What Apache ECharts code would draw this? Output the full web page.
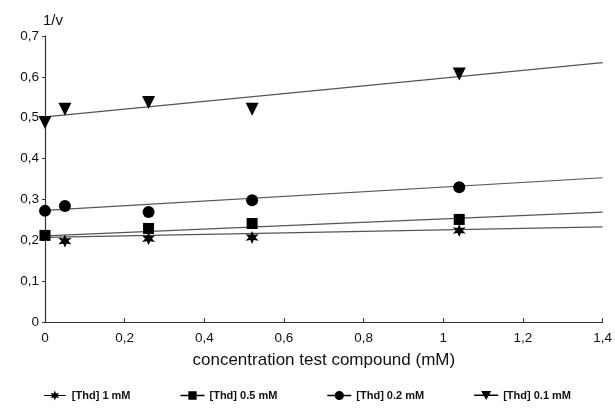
<!DOCTYPE html>
<html><head><meta charset="utf-8">
<script src="https://cdn.jsdelivr.net/npm/echarts@6/dist/echarts.min.js"></script>
<style>html,body{margin:0;padding:0;background:#fff}#c{width:615px;height:411px}</style>
</head><body><div id="c"></div>
<script>
// Data
const seriesNames = ['[Thd] 1 mM', '[Thd] 0.5 mM', '[Thd] 0.2 mM', '[Thd] 0.1 mM'];
const star1mM = [[0.05, 0.198], [0.26, 0.204], [0.52, 0.207], [1.04, 0.224]];
const square05mM = [[0, 0.212], [0.26, 0.229], [0.52, 0.241], [1.04, 0.251]];
const circle02mM = [[0, 0.272], [0.05, 0.284], [0.26, 0.269], [0.52, 0.298], [1.04, 0.330]];
const tri01mM = [[0, 0.488], [0.05, 0.521], [0.26, 0.537], [0.52, 0.521], [1.04, 0.607]];
// Fitted lines (start at x=0, end at x=1.4)
const fit1mM = [[0, 0.207], [1.4, 0.233]];
const fit05mM = [[0, 0.211], [1.4, 0.269]];
const fit02mM = [[0, 0.273], [1.4, 0.353]];
const fit01mM = [[0, 0.502], [1.4, 0.635]];

function starPath(cx, cy, ro, ri) {
  let s = '';
  for (let k = 0; k < 12; k++) {
    const a = (-90 + k * 30) * Math.PI / 180;
    const r = k % 2 ? ri : ro;
    s += (k ? 'L' : 'M') + (cx + r * Math.cos(a)).toFixed(2) + ',' + (cy + r * Math.sin(a)).toFixed(2);
  }
  return s + 'Z';
}
const starSym = 'path://' + starPath(10, 10, 10, 4.6);
const lineBar = 'M2,5.3L28,5.3L28,6.7L2,6.7Z';
const legIcons = [
  'path://' + lineBar + starPath(15, 6, 6, 2.8),
  'path://' + lineBar + 'M10.5,1.5L19.5,1.5L19.5,10.5L10.5,10.5Z',
  'path://' + lineBar + 'M15,1A5,5 0 1,1 14.99,1Z',
  'path://' + lineBar + 'M9.5,1.5L20.5,1.5L15,11Z'
];

const comma = v => String(v).replace('.', ',');
const font = 'Liberation Sans';
const chart = echarts.init(document.getElementById('c'));
const pts = [star1mM, square05mM, circle02mM, tri01mM];
const fits = [fit1mM, fit05mM, fit02mM, fit01mM];
const syms = [starSym, 'rect', 'circle', 'triangle'];
const sizes = [13, 11, 12, 13];
const series = [];
fits.forEach((f, i) => series.push({
  type: 'line', data: f, symbol: 'none', silent: true,
  lineStyle: { color: '#555', width: 1.2 }, z: 1
}));
pts.forEach((p, i) => series.push({
  name: seriesNames[i], type: 'scatter', data: p, symbol: syms[i],
  symbolSize: sizes[i], symbolRotate: i === 3 ? 180 : 0,
  itemStyle: { color: '#000', opacity: 1 }, z: 3
}));

chart.setOption({
  backgroundColor: '#fff',
  animation: false,
  grid: { left: 45, right: 10, top: 36, bottom: 89 },
  xAxis: {
    type: 'value', min: 0, max: 1.4, interval: 0.2,
    name: 'concentration test compound (mM)', nameLocation: 'middle', nameGap: 30,
    nameTextStyle: { fontFamily: font, fontSize: 17, color: '#111' },
    axisLine: { lineStyle: { color: '#333', width: 1.2 } },
    axisTick: { inside: true, length: 4, lineStyle: { color: '#333' } },
    axisLabel: { fontFamily: font, fontSize: 13.5, color: '#111', margin: 9, formatter: v => comma(+v.toFixed(1)) },
    splitLine: { show: false }
  },
  yAxis: {
    type: 'value', min: 0, max: 0.7, interval: 0.1,
    name: '1/v', nameLocation: 'end', nameGap: 8,
    nameTextStyle: { fontFamily: font, fontSize: 15, color: '#111', align: 'left', padding: [0, 0, 0, -2] },
    axisLine: { show: true, lineStyle: { color: '#333', width: 1.2 } },
    axisTick: { show: true, length: 3, lineStyle: { color: '#333' } },
    axisLabel: { fontFamily: font, fontSize: 13.5, color: '#111', margin: 6, formatter: v => comma(+v.toFixed(1)) },
    splitLine: { show: false }
  },
  legend: {
    bottom: 5, left: 'center', itemGap: 50, itemWidth: 24, itemHeight: 10,
    data: seriesNames.map((n, i) => ({ name: n, icon: legIcons[i] })),
    textStyle: { fontFamily: font, fontSize: 11, fontWeight: 'bold', color: '#111' },
    itemStyle: { color: '#000' }
  },
  series
});
</script></body></html>
